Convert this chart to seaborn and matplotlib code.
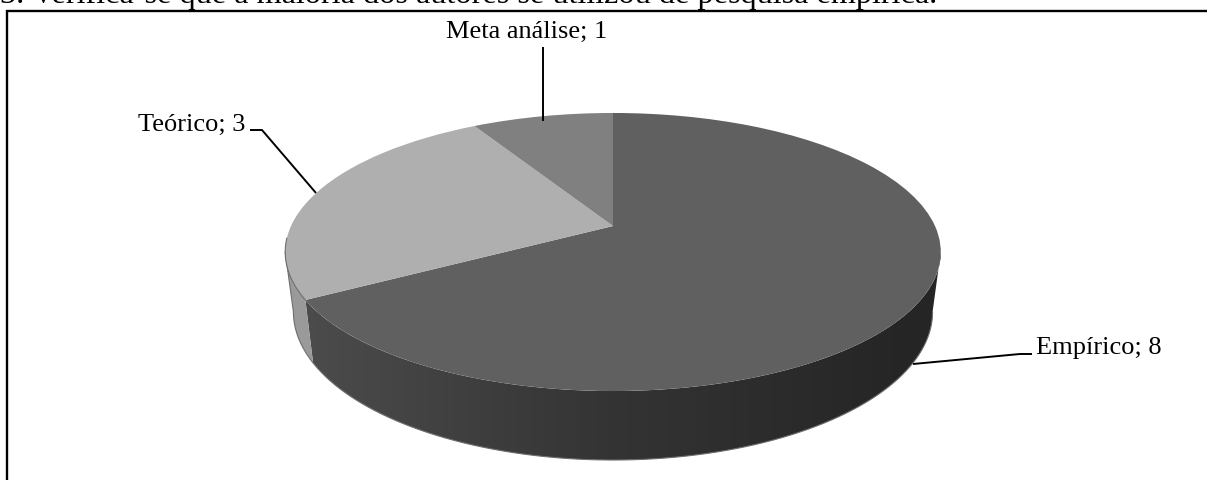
import numpy as np
import matplotlib
matplotlib.use("Agg")
import matplotlib.pyplot as plt
from matplotlib.patches import Polygon
from matplotlib.transforms import Transform
import seaborn as sns

categories = ["Empírico", "Teórico", "Meta análise"]
values = [8, 3, 1]
title = "3. Verifica-se que a maioria dos autores se utilizou de pesquisa empírica."

top_colors = ["#606060", "#afafaf", "#808080"]
side_light = "#9a9a9a"
TILT = 0.187
CX = 613
RADIUS = 322


class DiscProjection(Transform):
    """Perspective view of the unit disc, placed in pixel-like axes units."""
    input_dims = 2
    output_dims = 2
    is_separable = False
    has_inverse = False

    def __init__(self, y0, yk, shrink=1.0):
        super().__init__()
        self.y0, self.yk, self.shrink = y0, yk, shrink

    def transform_non_affine(self, xy):
        xy = np.asarray(xy, dtype=float)
        u, v = xy[:, 0], xy[:, 1]
        w = 1 + TILT * v
        return np.column_stack([CX + self.shrink * RADIUS * u / w, (self.y0 + self.yk * v) / w])


top_disc = DiscProjection(226, -91.9)
base_disc = DiscProjection(284, -90, 0.975)

sns.set_theme(style="white")
plt.rcParams["font.family"] = ["Liberation Serif", "DejaVu Serif"]

fig = plt.figure(figsize=(12.07, 4.8), dpi=100)
ax = fig.add_axes([0, 0, 1, 1])

# Title runs off the top edge; a white panel hides anything below the frame line.
ax.text(0, 3, title, fontsize=23.2, color="black", ha="left", va="baseline", zorder=1)
ax.fill_between([7, 1207], 10.5, 480, color="white", lw=0, zorder=2)
ax.plot([7, 7, 1207], [480, 10.5, 10.5], color="black", lw=1.7, solid_joinstyle="miter", zorder=2.5)

# Slice boundaries, clockwise from twelve o'clock; walls stop at the widest rim points.
shares = np.cumsum([0] + values) / np.sum(values) * 2 * np.pi
right_limit = np.arccos(-TILT)
left_limit = 2 * np.pi - right_limit


def rim(phi):
    return np.column_stack([np.sin(phi), np.cos(phi)])


def wall_outline(start, stop):
    phi = np.linspace(start, stop, 200)
    upper = top_disc.transform_non_affine(rim(phi))
    lower = base_disc.transform_non_affine(rim(phi))
    return np.vstack([upper, lower[::-1]])


# Empírico wall with a horizontal shade, darkest on the right.
wall_cmap = sns.blend_palette(["#4c4c4c", "#343434", "#252525"], as_cmap=True)
shade = np.linspace(0, 1, 256).reshape(1, -1)
img = ax.imshow(shade, cmap=wall_cmap, extent=(300, 915, 480, 100), aspect="auto", zorder=3)
full = ax.imshow(np.array([[1.0]]), cmap=wall_cmap, vmin=0, vmax=1, extent=(915, 950, 480, 100),
                 aspect="auto", zorder=3)
clip_poly = Polygon(wall_outline(right_limit, shares[1]), closed=True, transform=ax.transData)
img.set_clip_path(clip_poly)
full.set_clip_path(clip_poly)

# The small visible part of the Teórico wall.
ax.add_patch(Polygon(wall_outline(shares[1], left_limit), closed=True, facecolor=side_light, lw=0, zorder=3.2))

# Thin outline along the base of the walls.
arc = np.linspace(right_limit, left_limit, 300)
b_arc = base_disc.transform_non_affine(rim(arc))
ax.plot(b_arc[:, 0], b_arc[:, 1], color="#6e6e6e", lw=0.8, zorder=3.5)

# Top face: an ordinary pie pushed through the perspective transform.
wedges, _ = ax.pie(values, colors=sns.color_palette(top_colors), startangle=90, counterclock=False,
                   wedgeprops={"linewidth": 0})
for w in wedges:
    w.set_transform(top_disc + ax.transData)
    w.set_zorder(4)

# Dark hairline on the lower-left rim of the light slice and down the left silhouette.
rim_arc = np.linspace(shares[1], left_limit + 0.1, 60)
t_arc = top_disc.transform_non_affine(rim(rim_arc))
ax.plot(t_arc[:, 0], t_arc[:, 1], color="#6e6e6e", lw=0.8, zorder=4.5)
edge = np.vstack([top_disc.transform_non_affine(rim(np.array([left_limit]))),
                  base_disc.transform_non_affine(rim(np.array([left_limit])))])
ax.plot(edge[:, 0], edge[:, 1], color="#6e6e6e", lw=0.8, zorder=3.5)

ax.set_aspect("auto")
ax.set_xlim(0, 1207)
ax.set_ylim(480, 0)
ax.axis("off")

# Data labels with their leader lines.
label_style = dict(fontsize=19, color="black", zorder=6)
leaders = [
    ([913, 1020, 1032], [364, 354, 354], (1036, 348), "left"),
    ([316, 262, 250], [193, 130, 130], (245, 125), "right"),
    ([543, 543], [121, 47], (526.5, 32), "center"),
]
for (xs, ys, pos, ha), name, val in zip(leaders, categories, values):
    ax.plot(xs, ys, color="black", lw=1.4, solid_capstyle="butt", zorder=5)
    ax.text(pos[0], pos[1], f"{name}; {val}", ha=ha, va="center", **label_style)

fig.savefig("out.png", dpi=100)
